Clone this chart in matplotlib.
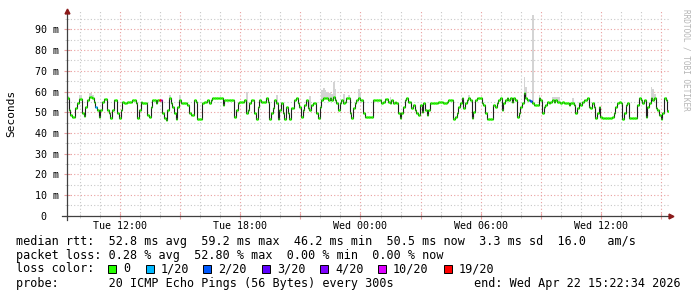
import numpy as np
import matplotlib
matplotlib.use("Agg")
import matplotlib.pyplot as plt
import matplotlib.dates as mdates
from matplotlib.patches import Rectangle
from matplotlib.ticker import FuncFormatter, MultipleLocator

# mediana del rtt (ms), una muestra cada 5 min, 12 por hora
mediana = [
    56.7, 51.0, 48.6, 47.8, 47.8, 51.9, 54.3, 56.2, 56.2, 49.4, 48.1, 52.7,
    55.9, 57.5, 57.5, 56.7, 55.1, 52.7, 51.0, 47.5, 51.0, 55.1, 56.2, 56.2,
    51.0, 49.4, 47.0, 51.0, 55.9, 55.9, 49.4, 47.0, 51.0, 55.1, 54.3, 54.3,
    55.1, 55.1, 55.1, 55.9, 55.9, 54.3, 47.0, 51.0, 55.1, 54.3, 54.3, 54.3,
    48.6, 47.5, 52.7, 55.9, 55.9, 54.3, 55.9, 55.9, 55.9, 49.4, 47.0, 46.2,
    51.0, 56.7, 54.3, 52.7, 49.4, 46.5, 52.7, 55.9, 54.3, 54.3, 54.3, 54.3,
    53.5, 49.4, 48.6, 48.6, 55.9, 55.1, 46.5, 46.5, 46.5, 54.3, 55.1, 55.1,
    55.9, 54.3, 55.9, 57.0, 57.0, 57.0, 57.0, 57.0, 57.0, 53.5, 55.9, 55.9,
    55.9, 55.9, 55.9, 55.9, 47.8, 51.0, 54.3, 55.1, 55.1, 55.1, 55.9, 49.4,
    51.0, 54.3, 55.9, 55.9, 49.4, 46.5, 52.7, 55.9, 55.1, 55.1, 55.1, 56.7,
    55.1, 46.5, 49.4, 51.9, 55.9, 54.3, 46.5, 51.0, 54.3, 49.4, 46.5, 52.7,
    49.4, 46.5, 51.9, 51.9, 55.9, 56.7, 54.3, 52.7, 47.8, 51.0, 53.5, 55.9,
    51.9, 51.0, 53.5, 54.3, 54.3, 49.4, 47.0, 52.7, 55.9, 56.7, 56.7, 56.7,
    55.9, 56.7, 55.9, 57.5, 55.9, 54.3, 51.0, 54.3, 55.9, 54.3, 55.1, 56.7,
    56.7, 49.4, 47.0, 51.9, 54.3, 55.9, 56.7, 55.9, 55.9, 49.4, 47.5, 47.5,
    47.5, 47.5, 47.5, 55.9, 55.9, 55.9, 55.9, 55.9, 54.3, 55.1, 56.2, 56.2,
    55.1, 54.3, 55.9, 54.3, 55.1, 54.3, 49.4, 47.0, 49.4, 52.7, 55.9, 56.7,
    55.1, 55.1, 51.9, 53.5, 51.0, 49.4, 48.6, 53.5, 50.2, 54.3, 51.0, 48.6,
    51.0, 54.3, 54.3, 54.3, 54.3, 54.3, 55.1, 55.1, 55.1, 54.3, 54.3, 55.1,
    55.9, 55.9, 55.9, 46.5, 47.8, 49.4, 52.7, 54.3, 56.7, 51.9, 54.3, 55.9,
    56.7, 55.9, 47.0, 50.2, 55.9, 56.7, 56.7, 56.7, 54.3, 53.5, 49.4, 46.5,
    46.5, 46.5, 46.5, 53.5, 52.7, 54.3, 55.9, 56.7, 51.0, 54.3, 55.9, 56.7,
    55.9, 56.7, 55.1, 56.7, 55.9, 47.8, 49.4, 52.7, 54.3, 59.2, 56.7, 55.9,
    55.9, 55.6, 54.3, 53.5, 53.5, 53.5, 56.7, 55.9, 49.4, 52.7, 53.5, 55.1,
    54.3, 55.1, 55.9, 55.1, 55.9, 55.1, 55.1, 54.3, 55.1, 54.3, 54.3, 54.3,
    53.5, 54.3, 54.3, 53.5, 49.4, 51.9, 54.3, 53.5, 55.1, 55.9, 55.9, 56.7,
    52.7, 51.9, 54.3, 52.7, 47.0, 49.4, 52.7, 47.8, 47.0, 47.0, 47.0, 47.0,
    47.0, 47.0, 47.8, 49.4, 52.7, 54.3, 55.1, 54.3, 46.5, 49.4, 53.5, 54.3,
    47.0, 47.0, 47.0, 47.0, 47.0, 53.5, 56.7, 55.9, 54.3, 55.9, 47.8, 52.7,
    54.3, 56.7, 55.9, 56.7, 51.9, 51.0, 48.6, 46.5, 49.4, 56.7, 55.9, 50.5,
]

# humo: muestras con ping máximo visible por encima de la mediana
humo_idx = [0, 7, 8, 13, 14, 15, 61, 67, 107, 125, 145, 152, 153, 154, 155,
            156, 157, 158, 159, 160, 165, 168, 174, 175, 193, 240, 273, 274,
            278, 282, 290, 291, 292, 293, 294, 302, 349, 350, 351, 358]
humo_max = [58.0, 58.4, 58.4, 59.5, 59.5, 58.5, 58.4, 58.3, 60.0, 58.3, 58.0,
            60.7, 61.5, 60.7, 60.0, 59.5, 60.0, 59.0, 64.7, 61.0, 59.0, 58.5,
            61.0, 60.0, 57.5, 58.3, 67.1, 62.3, 97.0, 58.3, 57.5, 57.5, 57.5,
            57.5, 57.5, 57.0, 62.0, 61.0, 59.0, 57.5]

# muestras con pérdida de paquetes
perdida_idx = [17, 55, 56, 276, 277]
perdida_cat = ["1/20", "19/20", "10/20", "2/20", "2/20"]

categorias = ["0", "1/20", "2/20", "3/20", "4/20", "10/20", "19/20"]
colores_cat = ["#26ff00", "#00b8ff", "#0059ff", "#5e00ff", "#7e00ff",
               "#dd00ff", "#ff0000"]

W, H = 697, 297
MONO = "DejaVu Sans Mono"
ROJO_GRID = "#eaa0a0"
GRIS_GRID = "#c8c8c8"

fin = np.datetime64("2026-04-22T15:22:34")
paso = np.timedelta64(5, "m")
n = len(mediana)
t_ini = fin - n * paso
t = mdates.date2num(t_ini + np.arange(n) * paso)
ancho = 5 / 1440
rtt = np.array(mediana)

color_de = dict(zip(categorias, colores_cat))
colores = [color_de["0"]] * n
for i, c in zip(perdida_idx, perdida_cat):
    colores[i] = color_de[c]

fig = plt.figure(figsize=(W / 100, H / 100), dpi=100)
ax = fig.add_axes([67 / W, 1 - 215.7 / H, 602 / W, 99 * 2.07 / H])
ax.set_xlim(mdates.date2num(t_ini), mdates.date2num(fin))
ax.set_ylim(0, 99)

# humo
hi = np.array(humo_idx)
ax.bar(t[hi], np.array(humo_max) - rtt[hi], bottom=rtt[hi], width=ancho,
       align="edge", color="#d4d4d4", linewidth=0, zorder=2)

# mediana: escalones negros + tramos coloreados por pérdida
ax.step(np.append(t, t[-1] + ancho), np.append(rtt, rtt[-1]), where="post",
        color="#202020", lw=0.8, zorder=3)
ax.hlines(rtt, t, t + ancho, colors=colores, lw=1.8, zorder=4)

# rejilla
ax.xaxis.set_major_locator(mdates.HourLocator(byhour=range(0, 24, 3)))
ax.xaxis.set_minor_locator(mdates.HourLocator())
ax.yaxis.set_major_locator(MultipleLocator(10))
ax.yaxis.set_minor_locator(MultipleLocator(5))
ax.grid(True, which="major", color=ROJO_GRID, ls=(0, (1, 2)), lw=0.8)
ax.grid(True, which="minor", color=GRIS_GRID, ls=(0, (1, 2)), lw=0.8)
ax.set_axisbelow(True)


def etiqueta_x(v, pos):
    d = mdates.num2date(v)
    return d.strftime("%a %H:%M") if d.hour % 6 == 0 else ""


ax.xaxis.set_major_formatter(FuncFormatter(etiqueta_x))
ax.yaxis.set_major_formatter(
    FuncFormatter(lambda v, p: "0  " if v == 0 else f"{v:.0f} m"))
ax.tick_params(which="major", direction="inout", length=4, color=ROJO_GRID,
               labelsize=7.2)
ax.tick_params(which="minor", direction="inout", length=3, color=GRIS_GRID)
ax.tick_params(axis="y", pad=4)
ax.tick_params(axis="x", pad=2)
for lab in ax.get_xticklabels() + ax.get_yticklabels():
    lab.set_family(MONO)

for s in ax.spines.values():
    s.set_visible(False)

# ejes con flechas
ax.plot([-0.008, 1.004], [0, 0], transform=ax.transAxes, color="#404040",
        lw=0.9, clip_on=False, zorder=5)
ax.plot([0, 0], [-0.02, 1.0], transform=ax.transAxes, color="#404040",
        lw=0.9, clip_on=False, zorder=5)
ax.plot(1.004, 0, marker=">", ms=3.5, color="#8b1a1a", transform=ax.transAxes,
        clip_on=False, zorder=6)
ax.plot(0, 1.0, marker="^", ms=3.5, color="#8b1a1a", transform=ax.transAxes,
        clip_on=False, zorder=6)

fig.text(11 / W, 1 - 113 / H, "Seconds", rotation=90, family=MONO, size=8,
         ha="center", va="center")
fig.text(686 / W, 1 - 60 / H, "RRDTOOL / TOBI OETIKER", rotation=270,
         family=MONO, size=5.6, color="#b4b4b4", ha="center", va="center")

# leyenda
TAM = 8.45
lineas = [
    "median rtt:  52.8 ms avg  59.2 ms max  46.2 ms min  50.5 ms now  3.3 ms sd  16.0   am/s",
    "packet loss: 0.28 % avg  52.80 % max  0.00 % min  0.00 % now",
    "loss color:",
    "probe:       20 ICMP Echo Pings (56 Bytes) every 300s",
]
for k, txt in enumerate(lineas):
    fig.text(16 / W, 1 - (241 + 14 * k) / H, txt, family=MONO, size=TAM,
             va="center", ha="left")
fig.text(681 / W, 1 - 283 / H, "end: Wed Apr 22 15:22:34 2026", family=MONO,
         size=TAM, va="center", ha="right")

caja_x = [108, 146, 203, 262, 320, 378, 444]
for cx, cat, col in zip(caja_x, categorias, colores_cat):
    fig.patches.append(Rectangle((cx / W, 1 - 273 / H), 8 / W, 8 / H,
                                 transform=fig.transFigure, facecolor=col,
                                 edgecolor="black", lw=0.7))
    fig.text((cx + 15) / W, 1 - 269 / H, cat, family=MONO, size=TAM,
             va="center", ha="left")

fig.savefig("out.png", dpi=100, facecolor="white")
